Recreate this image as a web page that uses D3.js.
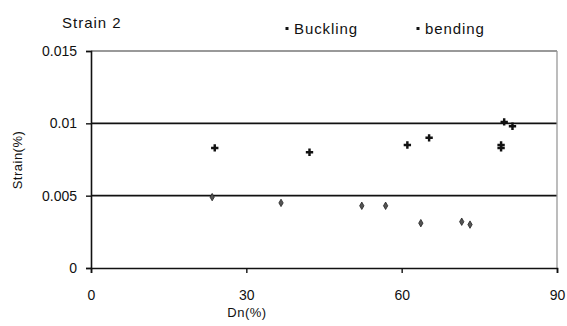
<!DOCTYPE html>
<html><head><meta charset="utf-8">
<script src="https://cdn.jsdelivr.net/npm/d3@7"></script>
<style>body{margin:0;background:#fff}svg{display:block}text{font-family:Arial,"Liberation Sans",sans-serif;fill:#111}</style>
</head><body><svg id="c" width="567" height="326"></svg>
<script>
const bucklingDn = [23.9, 42.2, 61.1, 65.3, 79.2, 79.2, 79.8, 81.4];
const bucklingStrain = [0.0083, 0.0080, 0.0085, 0.0090, 0.0083, 0.0085, 0.0101, 0.0098];
const bendingDn = [23.4, 36.7, 52.3, 56.9, 63.7, 71.6, 73.2];
const bendingStrain = [0.0049, 0.0045, 0.0043, 0.0043, 0.0031, 0.0032, 0.0030];
const xTicks = [0, 30, 60, 90];
const yTicks = [0, 0.005, 0.01, 0.015];
const yTickLabels = ["0", "0.005", "0.01", "0.015"];
const seriesNames = ["Buckling", "bending"];

const svg = d3.select("#c");
const L = 91, R = 557, T = 51, B = 268;
const x = d3.scaleLinear().domain([0, 90]).range([L, R]);
const y = d3.scaleLinear().domain([0, 0.015]).range([B, T]);

// gridlines
svg.append("g").selectAll("line").data([0.005, 0.01]).join("line")
  .attr("x1", L).attr("x2", R).attr("y1", d => y(d)).attr("y2", d => y(d))
  .attr("stroke", "#111").attr("stroke-width", 1.6);
// frame top/right
svg.append("line").attr("x1", L).attr("x2", R).attr("y1", y(0.015)).attr("y2", y(0.015)).attr("stroke", "#777").attr("stroke-width", 1.3);
svg.append("line").attr("x1", R).attr("x2", R).attr("y1", T).attr("y2", B).attr("stroke", "#999").attr("stroke-width", 1.3);

// axes
const yAxis = d3.axisLeft(y).tickValues(yTicks).tickFormat((d, i) => yTickLabels[i]).tickSize(5).tickPadding(9);
const gy = svg.append("g").attr("transform", `translate(${L},0)`).call(yAxis);
const xAxis = d3.axisBottom(x).tickValues(xTicks).tickFormat(d3.format("d")).tickSize(5).tickPadding(17);
const gx = svg.append("g").attr("transform", `translate(0,${B})`).call(xAxis);
[gx, gy].forEach(g => {
  g.select(".domain").attr("stroke", "#111").attr("stroke-width", 1.6);
  g.selectAll(".tick line").attr("stroke", "#111").attr("stroke-width", 1.4);
  g.selectAll("text").attr("font-size", 14).attr("fill", "#222").style("font-family", "Arial, 'Liberation Sans', sans-serif");
});

// points
const buck = bucklingDn.map((d, i) => ({dn: d, s: bucklingStrain[i]}));
const bend = bendingDn.map((d, i) => ({dn: d, s: bendingStrain[i]}));
svg.append("g").selectAll("path").data(buck).join("path")
  .attr("transform", d => `translate(${x(d.dn)},${y(d.s)})`)
  .attr("d", d3.symbol(d3.symbolCross, 30)())
  .attr("fill", "#111");
svg.append("g").selectAll("path").data(bend).join("path")
  .attr("transform", d => `translate(${x(d.dn)},${y(d.s)})`)
  .attr("d", d3.symbol(d3.symbolDiamond, 16)())
  .attr("fill", "#555").attr("stroke", "#222").attr("stroke-width", 0.8);

// title
svg.append("text").attr("x", 62).attr("y", 28).attr("font-size", 15).attr("letter-spacing", 1).text("Strain 2");
// legend
const legX = [287, 418];
seriesNames.forEach((n, i) => {
  svg.append("rect").attr("x", legX[i] - 1.5).attr("y", 27).attr("width", 3).attr("height", 3).attr("fill", "#111");
  svg.append("text").attr("x", legX[i] + 7).attr("y", 34).attr("font-size", 15).attr("letter-spacing", 0.9).text(n);
});
// axis titles
svg.append("text").attr("x", 247).attr("y", 317).attr("text-anchor", "middle").attr("font-size", 13).attr("letter-spacing", 0.5).text("Dn(%)");
svg.append("text").attr("transform", "translate(22,160) rotate(-90)").attr("text-anchor", "middle").attr("font-size", 13).attr("letter-spacing", 0.5).text("Strain(%)");
</script></body></html>
